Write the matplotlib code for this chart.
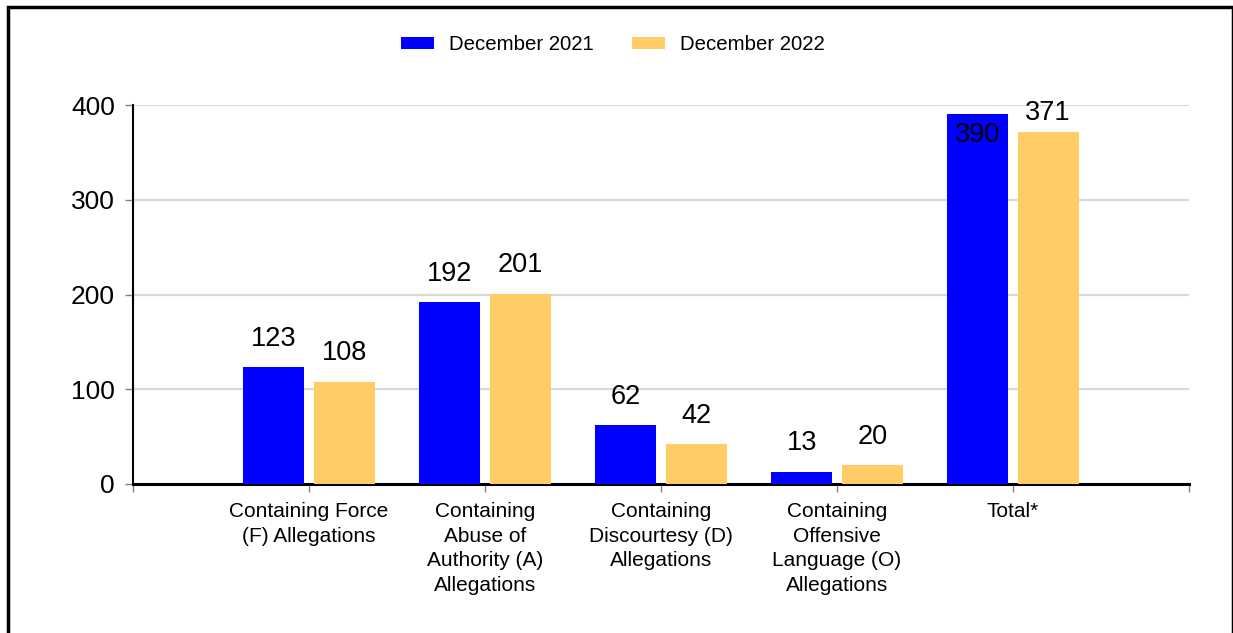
import matplotlib.pyplot as plt
from matplotlib.patches import Rectangle
import numpy as np

plt.rcParams['font.family'] = ['Liberation Sans', 'DejaVu Sans']

categories = ['Containing Force\n(F) Allegations',
              'Containing\nAbuse of\nAuthority (A)\nAllegations',
              'Containing\nDiscourtesy (D)\nAllegations',
              'Containing\nOffensive\nLanguage (O)\nAllegations',
              'Total*']
dec_2021 = [123, 192, 62, 13, 390]
dec_2022 = [108, 201, 42, 20, 371]
series_names = ['December 2021', 'December 2022']
colors = ['#0000ff', '#ffcc66']

# label offsets (data units) above each bar; the total group sits at the top edge
offsets_2021 = [30, 30, 30, 30, -22]
offsets_2022 = [30, 30, 30, 30, 21]


def plot_chart():
    fig = plt.figure(figsize=(12.33, 6.33), dpi=100)
    ax = fig.add_axes([0.1079, 0.2354, 0.8564, 0.5987])

    x = np.arange(1, len(categories) + 1)
    w = 0.345
    ax.bar(x - 0.2, dec_2021, w, color=colors[0], label=series_names[0], zorder=3)
    ax.bar(x + 0.2, dec_2022, w, color=colors[1], label=series_names[1], zorder=3)

    for xi, v, off in zip(x, dec_2021, offsets_2021):
        ax.text(xi - 0.2, v + off, str(v), ha='center', va='center', fontsize=19.5, zorder=4)
    for xi, v, off in zip(x, dec_2022, offsets_2022):
        ax.text(xi + 0.2, v + off, str(v), ha='center', va='center', fontsize=19.5, zorder=4)

    ax.set_xlim(0, len(categories) + 1)
    ax.set_ylim(0, 400)
    ax.set_yticks([0, 100, 200, 300, 400])
    ax.set_xticks(np.arange(0, len(categories) + 2))
    ax.set_xticklabels([''] + categories + [''], fontsize=15, linespacing=1.38, va='top')
    ax.tick_params(axis='y', labelsize=19, length=6, width=1, color='#808080', pad=7)
    ax.tick_params(axis='x', length=6, width=1, color='#808080', pad=7)

    ax.grid(axis='y', color='#d9d9d9', linewidth=1.6, zorder=0)
    ax.set_axisbelow(True)
    for s in ['top', 'right']:
        ax.spines[s].set_visible(False)
    ax.spines['left'].set_linewidth(1.5)
    ax.spines['bottom'].set_linewidth(2.2)

    fig.legend(loc='center', bbox_to_anchor=(0.497, 0.929), ncol=2, frameon=False,
               fontsize=14.7, handlelength=1.6, handleheight=0.55, columnspacing=1.9,
               handletextpad=0.73)

    fig.patches.append(Rectangle((0.0065, -0.05), 0.9932, 1.039, transform=fig.transFigure,
                                 fill=False, edgecolor='black', linewidth=2.5))

    fig.savefig('out.png', dpi=100)


if __name__ == '__main__':
    plot_chart()
